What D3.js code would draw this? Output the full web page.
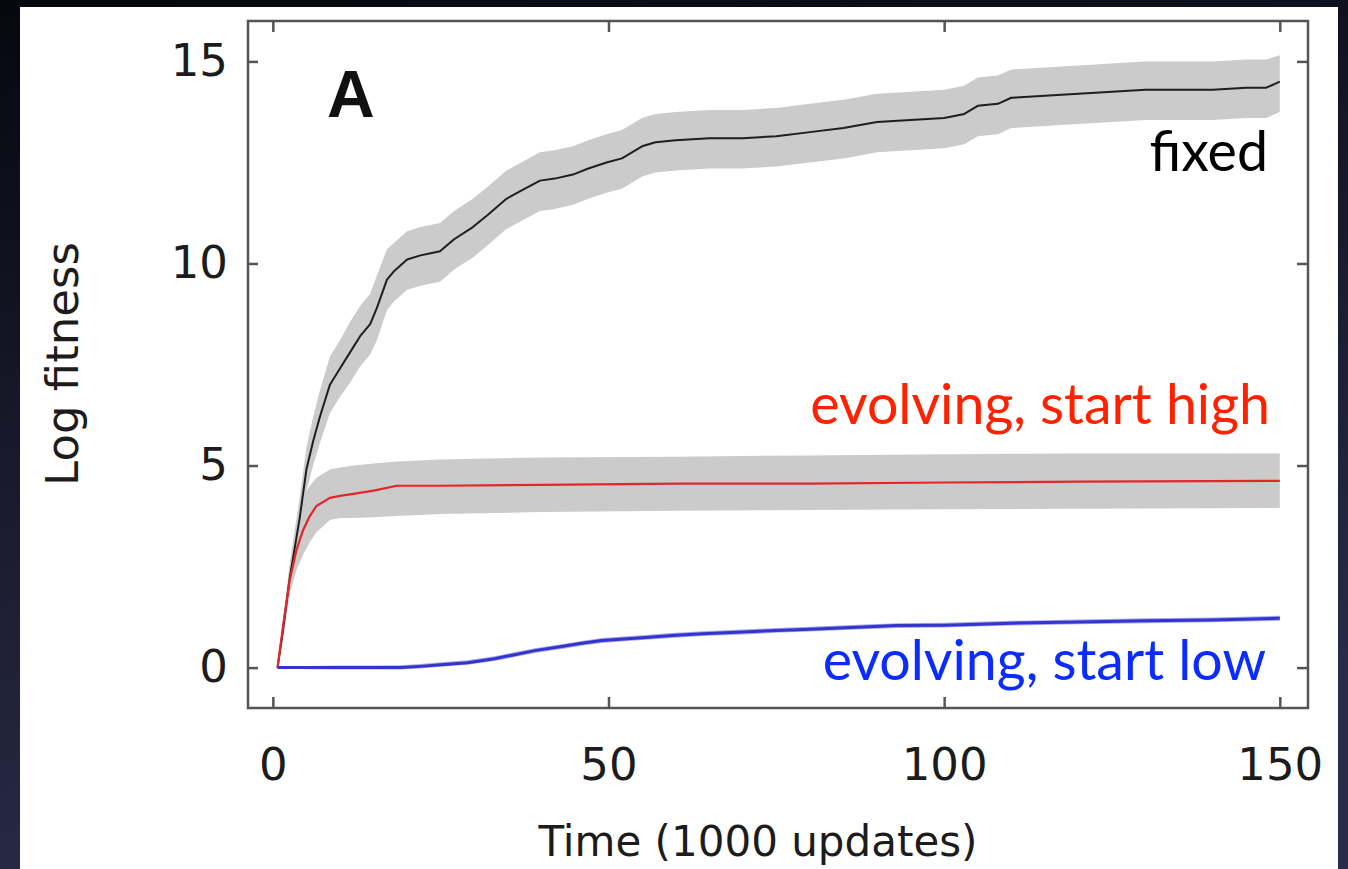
<!DOCTYPE html>
<html>
<head>
<meta charset="utf-8">
<script src="https://cdn.jsdelivr.net/npm/d3@7"></script>
<style>
  html, body { margin: 0; padding: 0; background: #10111f; }
  svg { display: block; }
</style>
</head>
<body>
<div id="chart"></div>
<script>
// time axis, in 1000 updates
const xTicks = [0, 50, 100, 150];
const yTicks = [0, 5, 10, 15];

// fixed mutation rate
const fixedT = [0.7, 1.5, 2.5, 3.3, 4, 5, 6, 7, 8.5, 10, 11.5, 13, 14.5, 15.5, 17, 18, 20, 22, 24.9, 27, 29.8, 32, 34.8, 37, 39.8, 42, 44.7, 47, 49.7, 52, 55, 57, 60, 65, 70, 75, 80, 85, 90, 95, 100, 103, 105, 108, 110, 115, 120, 125, 130, 135, 140, 145, 148, 150];
const fixedMean = [0, 0.9, 2.2, 3.0, 3.7, 4.9, 5.6, 6.2, 7.0, 7.4, 7.8, 8.2, 8.5, 8.9, 9.6, 9.8, 10.1, 10.2, 10.3, 10.6, 10.9, 11.2, 11.6, 11.8, 12.05, 12.1, 12.2, 12.35, 12.5, 12.6, 12.9, 13.0, 13.05, 13.1, 13.1, 13.15, 13.25, 13.35, 13.5, 13.55, 13.6, 13.7, 13.9, 13.95, 14.1, 14.15, 14.2, 14.25, 14.3, 14.3, 14.3, 14.35, 14.35, 14.5];
const fixedUpper = [0, 1.1, 2.55, 3.45, 4.2, 5.45, 6.2, 6.85, 7.7, 8.1, 8.55, 8.95, 9.25, 9.7, 10.35, 10.5, 10.8, 10.9, 11.0, 11.3, 11.6, 11.9, 12.3, 12.5, 12.75, 12.8, 12.9, 13.05, 13.2, 13.3, 13.6, 13.7, 13.75, 13.8, 13.8, 13.85, 13.95, 14.05, 14.2, 14.25, 14.3, 14.4, 14.6, 14.65, 14.8, 14.85, 14.9, 14.95, 15.0, 15.0, 15.0, 15.05, 15.05, 15.15];
const fixedLower = [0, 0.7, 1.85, 2.55, 3.2, 4.35, 5.0, 5.55, 6.3, 6.7, 7.05, 7.45, 7.75, 8.1, 8.85, 9.05, 9.35, 9.45, 9.55, 9.85, 10.15, 10.45, 10.85, 11.05, 11.3, 11.35, 11.45, 11.6, 11.75, 11.85, 12.15, 12.25, 12.3, 12.35, 12.35, 12.4, 12.5, 12.6, 12.75, 12.8, 12.85, 12.95, 13.15, 13.2, 13.35, 13.4, 13.45, 13.5, 13.55, 13.55, 13.55, 13.6, 13.6, 13.75];

// evolving, start high
const highT = [0.7, 1.5, 2.5, 3.5, 4.5, 5.5, 6.5, 8.5, 10, 12, 15, 18.5, 25, 40, 60, 80, 100, 120, 150];
const highMean = [0, 1.0, 2.15, 2.9, 3.4, 3.75, 4.0, 4.2, 4.25, 4.3, 4.38, 4.5, 4.5, 4.52, 4.55, 4.55, 4.58, 4.6, 4.62];
const highUpper = [0, 1.2, 2.5, 3.5, 4.2, 4.5, 4.7, 4.9, 4.95, 5.0, 5.05, 5.1, 5.15, 5.2, 5.22, 5.25, 5.28, 5.3, 5.3];
const highLower = [0, 0.8, 1.8, 2.4, 2.8, 3.1, 3.35, 3.65, 3.7, 3.7, 3.72, 3.75, 3.8, 3.85, 3.88, 3.9, 3.92, 3.93, 3.95];

// evolving, start low
const lowT = [0.7, 5, 10, 15, 19, 22, 25, 29, 33, 36, 39, 43, 46, 49, 55, 60, 64, 70, 75, 80, 87, 93, 100, 110, 120, 130, 140, 150];
const lowMean = [0, 0, 0, 0, 0, 0.03, 0.07, 0.12, 0.22, 0.32, 0.42, 0.52, 0.6, 0.67, 0.74, 0.8, 0.84, 0.88, 0.92, 0.95, 1.0, 1.04, 1.05, 1.1, 1.13, 1.16, 1.18, 1.22];
const lowUpper = [0, 0.04, 0.05, 0.05, 0.06, 0.09, 0.13, 0.18, 0.28, 0.38, 0.48, 0.58, 0.66, 0.73, 0.8, 0.86, 0.9, 0.94, 0.98, 1.01, 1.06, 1.1, 1.11, 1.16, 1.19, 1.22, 1.24, 1.28];
const lowLower = [0, -0.04, -0.05, -0.05, -0.05, -0.02, 0.02, 0.07, 0.16, 0.26, 0.36, 0.46, 0.54, 0.61, 0.68, 0.74, 0.78, 0.82, 0.86, 0.89, 0.94, 0.98, 0.99, 1.04, 1.07, 1.1, 1.12, 1.16];

const W = 1348, H = 869;
const box = { left: 248, right: 1308, top: 21, bottom: 708 };

const svg = d3.select('#chart').append('svg')
  .attr('width', W).attr('height', H);

// slide background
const grad = svg.append('defs').append('linearGradient')
  .attr('id', 'bg').attr('x1', 0).attr('y1', 0).attr('x2', 0.3).attr('y2', 1);
grad.append('stop').attr('offset', '0%').attr('stop-color', '#07070f');
grad.append('stop').attr('offset', '100%').attr('stop-color', '#2a2c48');
svg.append('rect').attr('width', W).attr('height', H).attr('fill', 'url(#bg)');
svg.append('rect').attr('x', 20).attr('y', 7).attr('width', 1318).attr('height', H - 7).attr('fill', '#fff');

const x = d3.scaleLinear().domain([-3.7, 154.2]).range([box.left, box.right]);
const y = d3.scaleLinear().domain([-1, 16]).range([box.bottom, box.top]);

const rows = (t, m, lo, hi) => t.map((d, i) => ({ t: d, m: m[i], lo: lo[i], hi: hi[i] }));
const series = [
  { data: rows(fixedT, fixedMean, fixedLower, fixedUpper), band: '#cbcbcb', line: '#1e1e1e', w: 2 },
  { data: rows(highT, highMean, highLower, highUpper), band: '#cbcbcb', line: '#e3262a', w: 2.2 },
  { data: rows(lowT, lowMean, lowLower, lowUpper), band: '#a9a9ee', line: '#3434cf', w: 3 },
];

const area = d3.area().x(d => x(d.t)).y0(d => y(d.lo)).y1(d => y(d.hi));
const line = d3.line().x(d => x(d.t)).y(d => y(d.m));

svg.append('g').selectAll('path').data(series).enter().append('path')
  .attr('d', d => area(d.data)).attr('fill', d => d.band);
svg.append('g').selectAll('path').data(series).enter().append('path')
  .attr('d', d => line(d.data)).attr('fill', 'none')
  .attr('stroke', d => d.line).attr('stroke-width', d => d.w).attr('stroke-linejoin', 'round');

// axes, ticks pointing inward on all four sides
const axisColor = '#555';
const styleAxis = g => {
  g.select('.domain').remove();
  g.selectAll('line').attr('stroke', axisColor).attr('stroke-width', 2.5);
  g.selectAll('text').style('font-family', 'DejaVu Sans').style('font-size', '45px').attr('fill', '#1c1c1c');
};
svg.append('g').attr('transform', `translate(0,${box.bottom})`)
  .call(d3.axisBottom(x).tickValues(xTicks).tickSizeInner(-11).tickSizeOuter(0).tickPadding(40))
  .call(styleAxis);
svg.append('g').attr('transform', `translate(0,${box.top})`)
  .call(d3.axisTop(x).tickValues(xTicks).tickSizeInner(-11).tickSizeOuter(0).tickFormat(''))
  .call(styleAxis);
svg.append('g').attr('transform', `translate(${box.left},0)`)
  .call(d3.axisLeft(y).tickValues(yTicks).tickSizeInner(-10).tickSizeOuter(0).tickPadding(20))
  .call(styleAxis);
svg.append('g').attr('transform', `translate(${box.right},0)`)
  .call(d3.axisRight(y).tickValues(yTicks).tickSizeInner(-11).tickSizeOuter(0).tickFormat(''))
  .call(styleAxis);

svg.append('rect')
  .attr('x', box.left).attr('y', box.top)
  .attr('width', box.right - box.left).attr('height', box.bottom - box.top)
  .attr('fill', 'none').attr('stroke', axisColor).attr('stroke-width', 2.5);

// titles
svg.append('text').attr('x', 758).attr('y', 856).attr('text-anchor', 'middle')
  .style('font-family', 'DejaVu Sans').style('font-size', '42px').attr('fill', '#1c1c1c')
  .text('Time (1000 updates)');
svg.append('text').attr('transform', 'translate(78,364) rotate(-90)').attr('text-anchor', 'middle')
  .style('font-family', 'DejaVu Sans').style('font-size', '45px').attr('fill', '#1c1c1c')
  .text('Log fitness');
svg.append('text').attr('x', 327).attr('y', 117)
  .style('font-family', 'Liberation Sans').style('font-weight', 'bold').style('font-size', '66px')
  .attr('fill', '#111').text('A');

// series labels
const labels = [
  { text: 'fixed', x: 1268, y: 171, color: '#000' },
  { text: 'evolving, start high', x: 1270, y: 424, color: '#ff2200' },
  { text: 'evolving, start low', x: 1266, y: 680, color: '#0a2cff' },
];
svg.append('g').selectAll('text').data(labels).enter().append('text')
  .attr('x', d => d.x).attr('y', d => d.y).attr('text-anchor', 'end')
  .style('font-family', 'Lato').style('font-size', '55.5px').attr('fill', d => d.color)
  .text(d => d.text);
</script>
</body>
</html>
